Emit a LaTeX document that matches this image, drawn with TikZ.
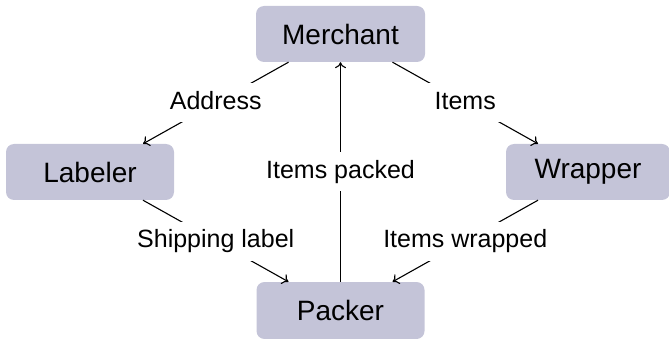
\documentclass[tikz,border=0pt]{standalone}
\usepackage{fontspec}
\setmainfont{Liberation Sans}
\usetikzlibrary{arrows.meta,calc}
\definecolor{boxfill}{RGB}{196,196,216}
\begin{document}
\begin{tikzpicture}[x=1pt,y=-1pt,
  box/.style={rectangle, rounded corners=8pt, fill=boxfill, minimum height=56pt, inner sep=0pt, font=\fontsize{28}{32}\selectfont},
  lbl/.style={fill=white, inner sep=8pt, text height=18pt, text depth=5pt, font=\fontsize{25}{30}\selectfont},
  conn/.style={line width=1.1pt, -{To[length=6pt,width=11pt]}}]
\useasboundingbox (0,0) rectangle (669,339);
\node[box, minimum width=169pt] (m) at (340.5,34) {Merchant};
\node[box, minimum width=168pt] (l) at (90,172) {Labeler};
\node[box, minimum width=164pt] (w) at (588,172) {Wrapper};
\node[box, minimum width=168pt, minimum height=57pt] (p) at (340.5,310.5) {Packer};
\draw[conn] ([xshift=-52pt]m.south) -- node[lbl]{Address} ([xshift=53pt]l.north);
\draw[conn] ([xshift=52pt]m.south) -- node[lbl]{Items} ([xshift=-50pt]w.north);
\draw[conn] (p.north) -- node[lbl]{Items packed} (m.south);
\draw[conn] ([xshift=53pt]l.south) -- node[lbl]{Shipping label} ([xshift=-52pt]p.north);
\draw[conn] ([xshift=-50pt]w.south) -- node[lbl]{Items wrapped} ([xshift=52pt]p.north);
\end{tikzpicture}
\end{document}
